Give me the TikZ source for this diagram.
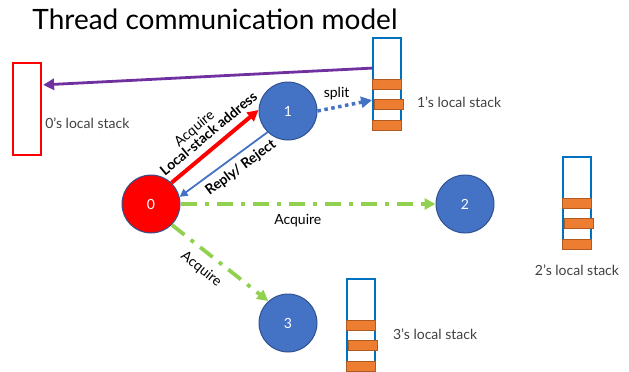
\documentclass[tikz,border=0pt]{standalone}
\usepackage{fontspec}
\setmainfont{Lato}
\usetikzlibrary{arrows.meta,positioning,calc}

\definecolor{threadblue}{HTML}{4472C4}
\definecolor{threadedge}{HTML}{2F528F}
\definecolor{stackblue}{HTML}{0070C0}
\definecolor{barorange}{HTML}{ED7D31}
\definecolor{baredge}{HTML}{AE5A21}
\definecolor{msgpurple}{HTML}{7030A0}
\definecolor{msggreen}{HTML}{92D050}
\definecolor{labelgray}{HTML}{404040}

\begin{document}
\begin{tikzpicture}[x=1pt, y=-1pt,
    thread/.style={circle, draw=threadedge, line width=1pt, fill=threadblue, minimum size=58pt, inner sep=0pt, text=white, font=\fontsize{14}{16}\selectfont},
    stackbox/.style={draw=stackblue, line width=1.8pt, fill=white, minimum width=28pt, minimum height=92pt, inner sep=0pt},
    bar/.style={draw=baredge, line width=0.5pt, fill=barorange, minimum width=29pt, minimum height=10pt, inner sep=0pt},
    stacklabel/.style={text=labelgray, inner sep=0pt, font=\fontsize{14}{16}\selectfont},
    msglabel/.style={inner sep=0pt, text=black, font=\fontsize{14}{16}\selectfont},
    boldlabel/.style={msglabel, font=\fontsize{14}{16}\selectfont\bfseries},
    tip/.style={-{Triangle[length=11pt, width=11pt]}}]
    \useasboundingbox (0,0) rectangle (629,372);

    \node[font=\fontsize{28}{34}\selectfont, inner sep=0pt] (title) at (215,19) {Thread communication model};

    % local stacks
    \node[stackbox, draw=red, line width=2.2pt] (stack0) at (27,109) {};
    \node[stackbox] (stack1) at (387,84) {};
    \node[stackbox] (stack2) at (577,203) {};
    \node[stackbox] (stack3) at (361,325) {};
    \foreach \s in {stack1,stack2,stack3} {
      \node[bar] (\s-b1) at ([yshift=6pt]\s.south) {};
      \node[bar] (\s-b2) at ([xshift=2pt, yshift=27pt]\s.south) {};
      \node[bar] (\s-b3) at ([yshift=47pt]\s.south) {};
    }
    \node[stacklabel, anchor=west] (lab0) at ([xshift=3pt, yshift=-14pt]stack0.east) {0's local stack};
    \node[stacklabel, anchor=west] (lab1) at ([xshift=15pt, yshift=-18pt]stack1.east) {1's local stack};
    \node[stacklabel, anchor=north] (lab2) at ([yshift=-15pt]stack2.south) {2's local stack};
    \node[stacklabel, anchor=west] (lab3) at ([xshift=17pt, yshift=-9pt]stack3.east) {3's local stack};

    % threads
    \node[thread, fill=red] (t0) at (151,204) {0};
    \node[thread] (t1) at (288,111) {1};
    \node[thread] (t2) at (465,204) {2};
    \node[thread] (t3) at (288,323) {3};

    % messages
    \draw[tip, msgpurple, line width=2.8pt] ([yshift=-31pt]stack1.north west) -- ([xshift=1pt, yshift=-23pt]stack0.north east);
    \draw[tip, red, line width=4pt] (t0.46) -- (t1.178)
      node[boldlabel, pos=0.53, sloped, anchor=south, inner sep=7pt] {Local-stack address}
      node[msglabel, pos=0.46, sloped, anchor=south, inner sep=18pt] {Acquire};
    \draw[-{Triangle[length=8pt, width=8pt]}, threadblue, line width=1.8pt] (t1.226) -- (t0.14)
      node[boldlabel, pos=0.39, sloped, anchor=north, inner sep=5.5pt] {Reply/ Reject};
    \draw[tip, threadblue, line width=3.5pt, dash pattern=on 3.5pt off 3.5pt] (t1.east) -- ([yshift=-63pt]stack1.north west)
      node[msglabel, pos=0.35, above, inner sep=6pt] {split};
    \draw[tip, msggreen, line width=3.8pt, dash pattern=on 16pt off 8pt on 4pt off 8pt] (t0.east) -- (t2.west)
      node[msglabel, pos=0.46, anchor=north, inner sep=8pt] {Acquire};
    \draw[tip, msggreen, line width=3.8pt, dash pattern=on 16pt off 8pt on 4pt off 8pt] (t0.315) -- (t3.132)
      node[msglabel, pos=0.41, sloped, anchor=north, inner sep=8.5pt] {Acquire};
\end{tikzpicture}
\end{document}
